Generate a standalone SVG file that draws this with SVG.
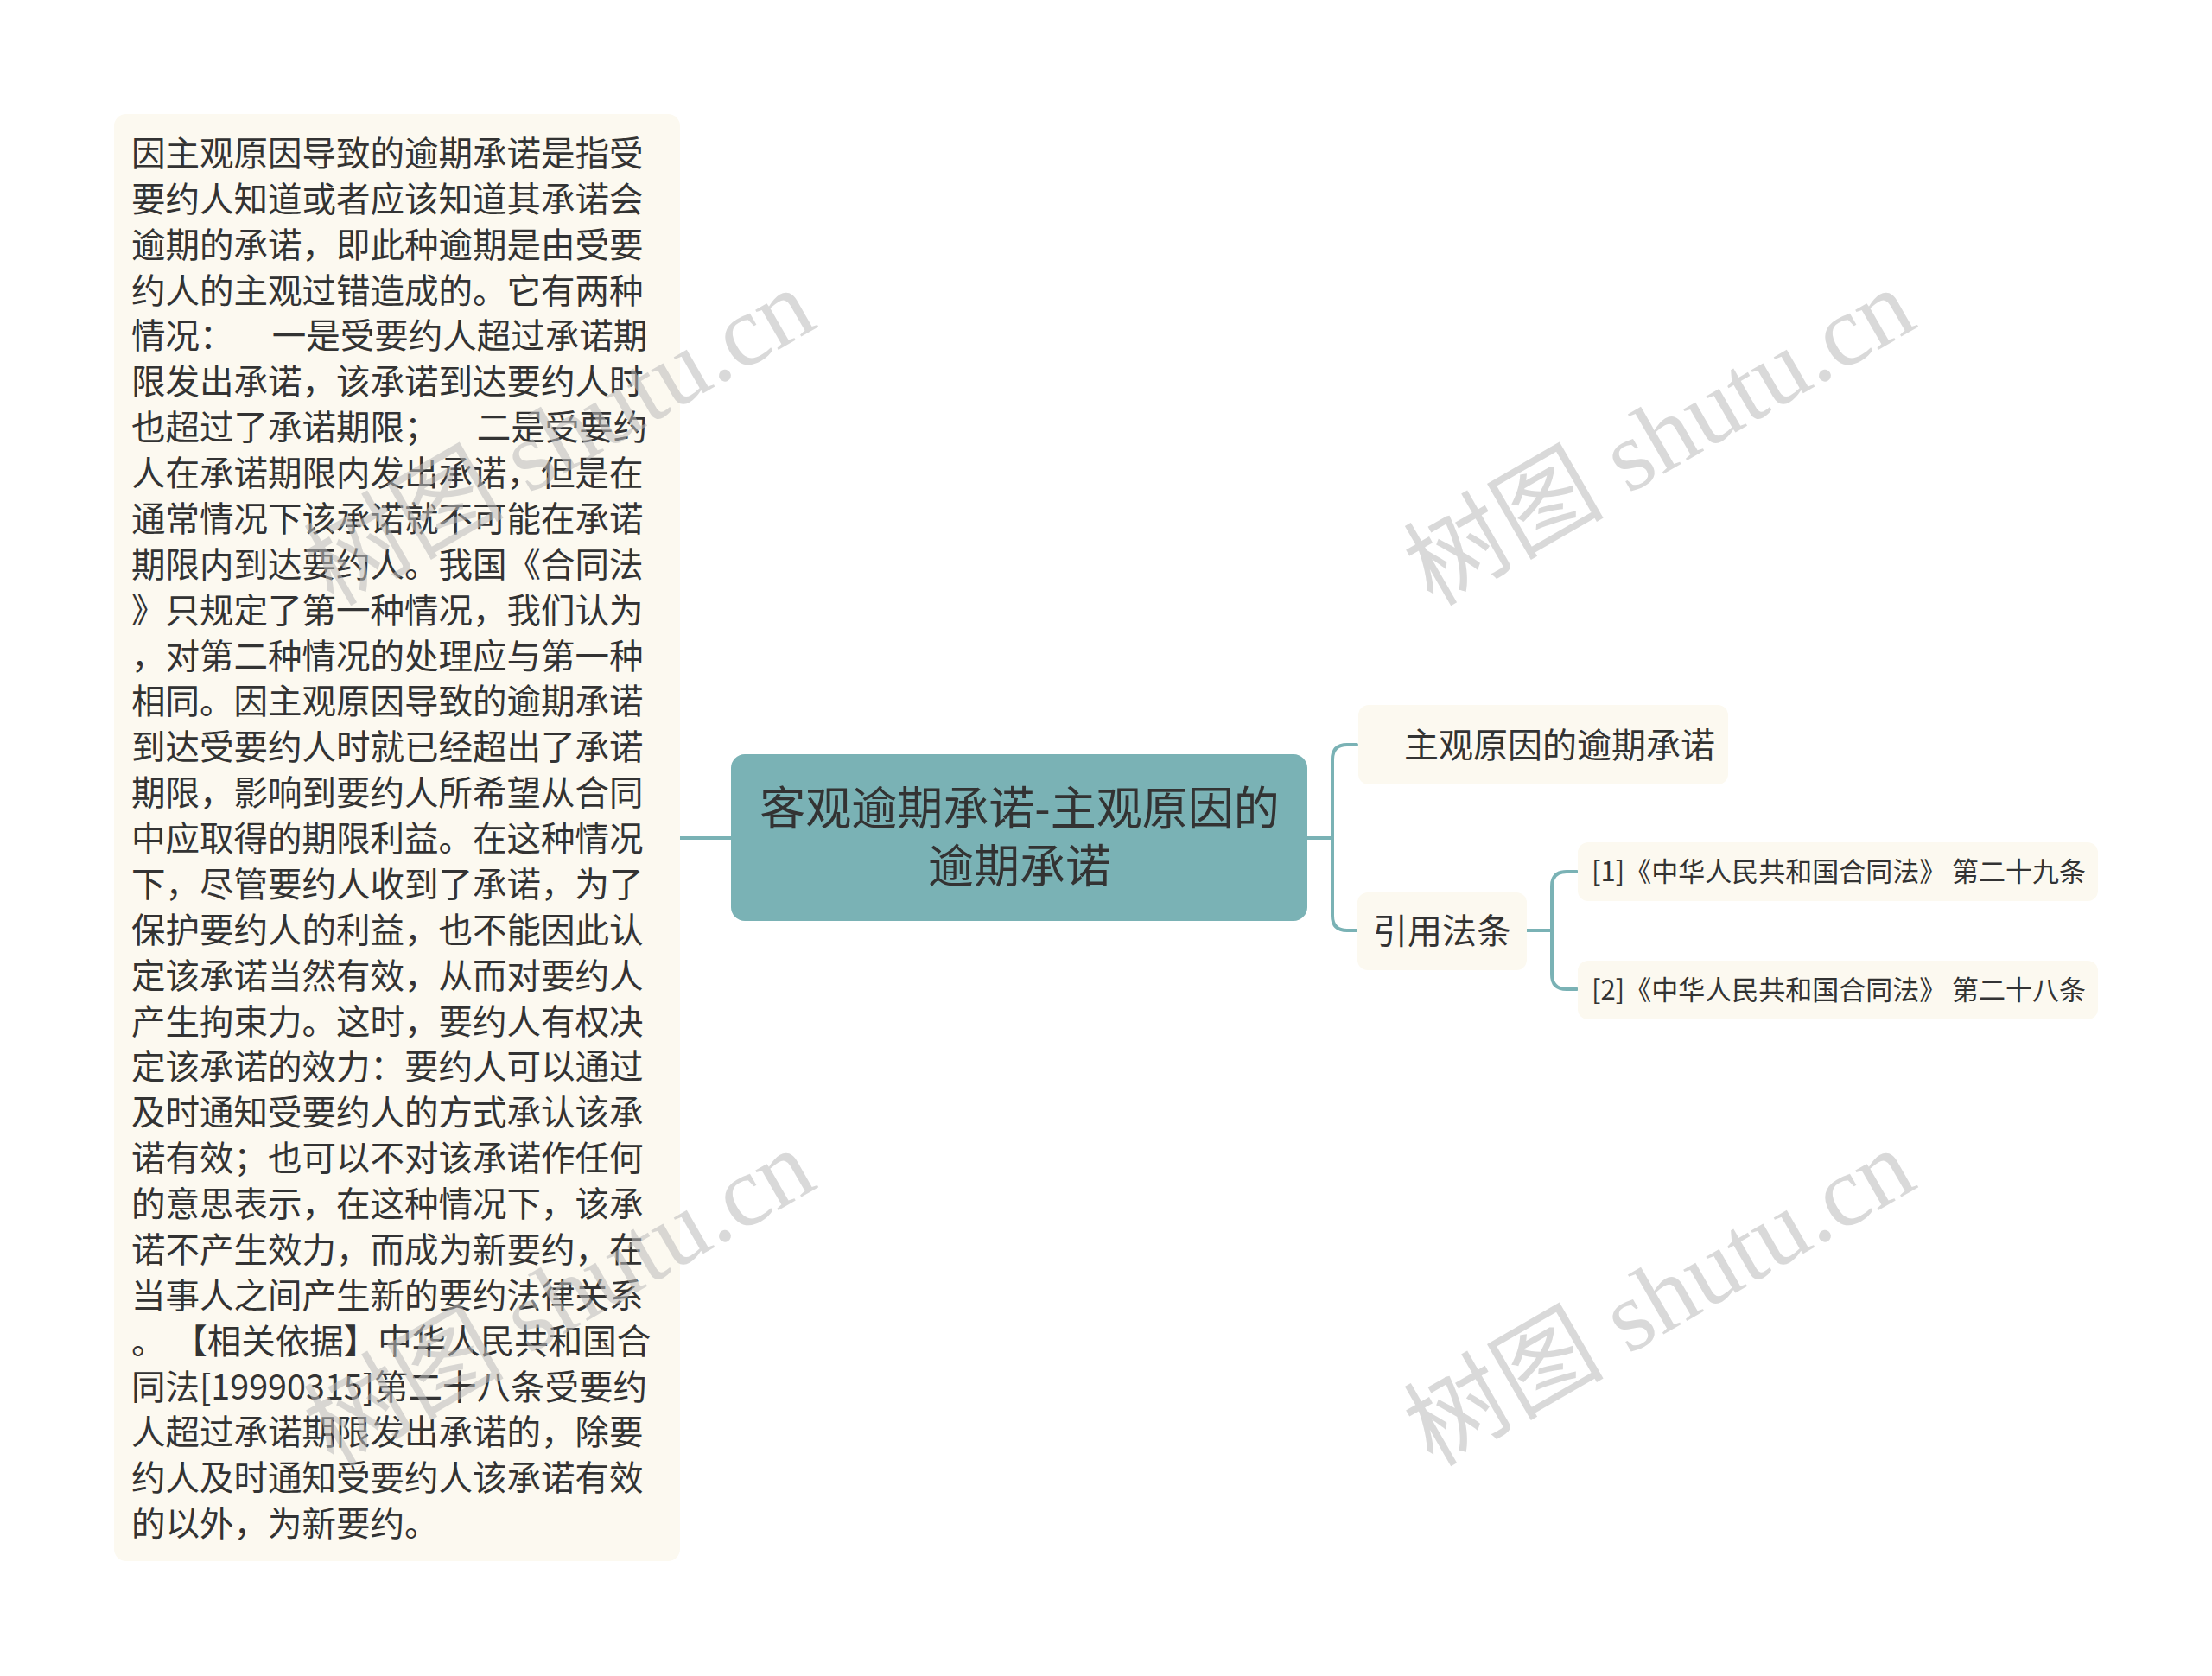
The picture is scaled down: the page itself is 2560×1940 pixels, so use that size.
<svg xmlns="http://www.w3.org/2000/svg" width="2560" height="1940" viewBox="0 0 2560 1940">
<style>
.bg{fill:#fcf9f0}
.t{font-family:"Noto Sans CJK SC","Liberation Sans",sans-serif;fill:#333333}
.body{font-size:39.5px}
.conn{fill:none;stroke:#7ab2b5;stroke-width:4;stroke-linecap:round}
.wm{font-family:"Liberation Serif","Noto Sans CJK SC",serif;font-size:116px;fill:#bbbbbb;opacity:0.55}
</style>
<rect width="2560" height="1940" fill="#ffffff"/>
<g id="connectors">
<path class="conn" d="M787 970 H846"/>
<path class="conn" d="M1513 970 H1542"/>
<path class="conn" d="M1570 862 H1559 Q1542 862 1542 879 V1060 Q1542 1077 1559 1077 H1570"/>
<path class="conn" d="M1767 1077 H1796"/>
<path class="conn" d="M1825 1009 H1813 Q1796 1009 1796 1026 V1128 Q1796 1145 1813 1145 H1825"/>
</g>
<g id="node-detail">
<rect class="bg" x="132" y="132" width="655" height="1675" rx="14"/>
<text class="t body" xml:space="preserve">
<tspan x="152" y="192">因主观原因导致的逾期承诺是指受</tspan>
<tspan x="152" y="245">要约人知道或者应该知道其承诺会</tspan>
<tspan x="152" y="298">逾期的承诺，即此种逾期是由受要</tspan>
<tspan x="152" y="351">约人的主观过错造成的。它有两种</tspan>
<tspan x="152" y="403">情况：     一是受要约人超过承诺期</tspan>
<tspan x="152" y="456">限发出承诺，该承诺到达要约人时</tspan>
<tspan x="152" y="509">也超过了承诺期限；     二是受要约</tspan>
<tspan x="152" y="562">人在承诺期限内发出承诺，但是在</tspan>
<tspan x="152" y="615">通常情况下该承诺就不可能在承诺</tspan>
<tspan x="152" y="668">期限内到达要约人。我国《合同法</tspan>
<tspan x="152" y="721">》只规定了第一种情况，我们认为</tspan>
<tspan x="152" y="774">，对第二种情况的处理应与第一种</tspan>
<tspan x="152" y="826">相同。因主观原因导致的逾期承诺</tspan>
<tspan x="152" y="879">到达受要约人时就已经超出了承诺</tspan>
<tspan x="152" y="932">期限，影响到要约人所希望从合同</tspan>
<tspan x="152" y="985">中应取得的期限利益。在这种情况</tspan>
<tspan x="152" y="1038">下，尽管要约人收到了承诺，为了</tspan>
<tspan x="152" y="1091">保护要约人的利益，也不能因此认</tspan>
<tspan x="152" y="1144">定该承诺当然有效，从而对要约人</tspan>
<tspan x="152" y="1197">产生拘束力。这时，要约人有权决</tspan>
<tspan x="152" y="1249">定该承诺的效力：要约人可以通过</tspan>
<tspan x="152" y="1302">及时通知受要约人的方式承认该承</tspan>
<tspan x="152" y="1355">诺有效；也可以不对该承诺作任何</tspan>
<tspan x="152" y="1408">的意思表示，在这种情况下，该承</tspan>
<tspan x="152" y="1461">诺不产生效力，而成为新要约，在</tspan>
<tspan x="152" y="1514">当事人之间产生新的要约法律关系</tspan>
<tspan x="152" y="1567">。 【相关依据】中华人民共和国合</tspan>
<tspan x="152" y="1620">同法[19990315]第二十八条受要约</tspan>
<tspan x="152" y="1672">人超过承诺期限发出承诺的，除要</tspan>
<tspan x="152" y="1725">约人及时通知受要约人该承诺有效</tspan>
<tspan x="152" y="1778">的以外，为新要约。</tspan>
</text>
</g>
<g id="node-root">
<rect x="846" y="873" width="667" height="193" rx="16" fill="#7ab2b5"/>
<text class="t" font-size="53" text-anchor="middle"><tspan x="1180" y="955">客观逾期承诺-主观原因的</tspan><tspan x="1180" y="1022">逾期承诺</tspan></text>
</g>
<g id="node-subjective">
<rect class="bg" x="1572" y="816" width="428" height="92" rx="12"/>
<text class="t" font-size="40" x="1625" y="877">主观原因的逾期承诺</text>
</g>
<g id="node-laws">
<rect class="bg" x="1571" y="1033" width="196" height="90" rx="12"/>
<text class="t" font-size="40" x="1669" y="1092" text-anchor="middle">引用法条</text>
</g>
<g id="node-law1">
<rect class="bg" x="1826" y="975" width="602" height="68" rx="12"/>
<text class="t" font-size="31" x="1842" y="1020">[1]《中华人民共和国合同法》 第二十九条</text>
</g>
<g id="node-law2">
<rect class="bg" x="1826" y="1112" width="602" height="68" rx="12"/>
<text class="t" font-size="31" x="1842" y="1157">[2]《中华人民共和国合同法》 第二十八条</text>
</g>
<g id="watermarks">
<text class="wm" text-anchor="middle" transform="translate(1940 540) rotate(-30)">树图 shutu.cn</text>
<text class="wm" text-anchor="middle" transform="translate(667 540) rotate(-30)">树图 shutu.cn</text>
<text class="wm" text-anchor="middle" transform="translate(1940 1536) rotate(-30)">树图 shutu.cn</text>
<text class="wm" text-anchor="middle" transform="translate(667 1536) rotate(-30)">树图 shutu.cn</text>
</g>
</svg>
